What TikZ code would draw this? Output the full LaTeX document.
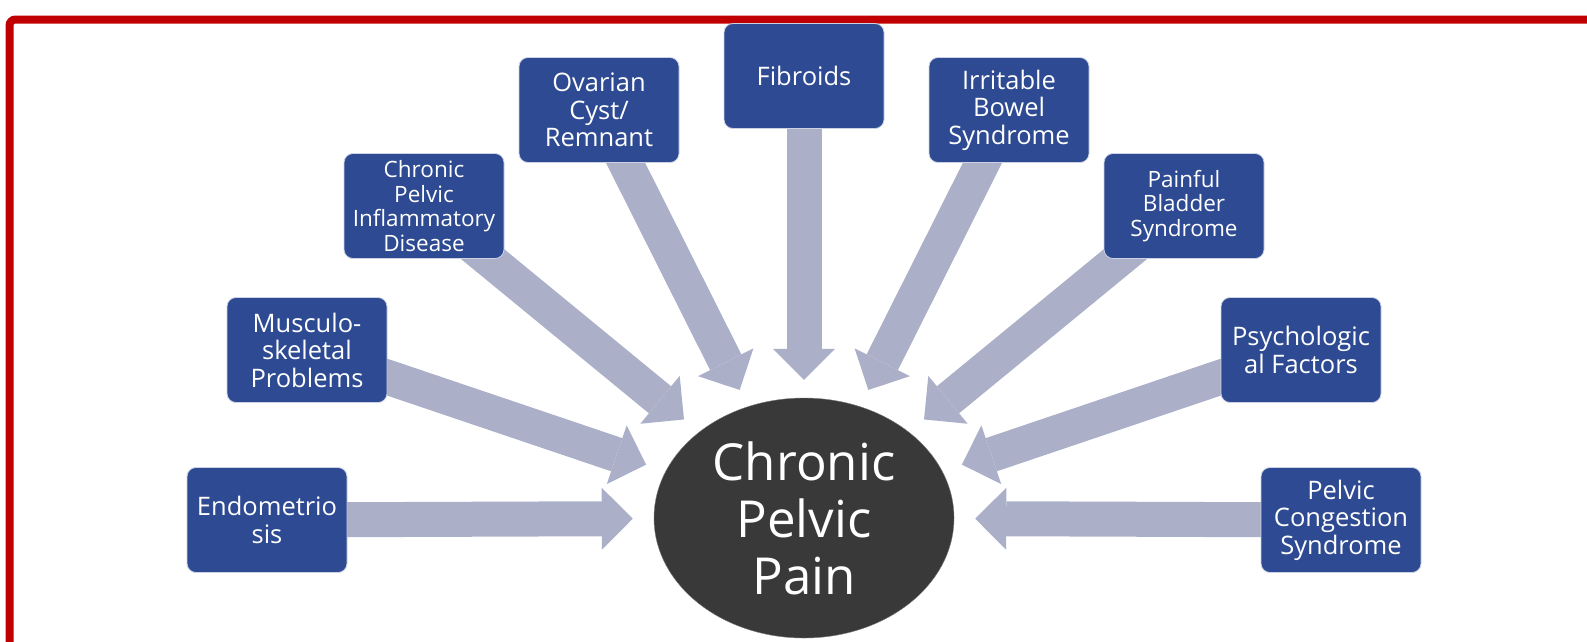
\documentclass[tikz,border=0pt]{standalone}
\usepackage{fontspec}
\setmainfont{Open Sans}
\usepackage{tikz}
\usetikzlibrary{backgrounds}
\usetikzlibrary{shapes.geometric, positioning, calc, arrows.meta}
\definecolor{boxblue}{RGB}{46,74,146}
\definecolor{arrowgrey}{RGB}{171,176,200}
\definecolor{hubgrey}{RGB}{57,57,57}
\definecolor{framered}{RGB}{192,0,0}
\tikzstyle{cause} = [rectangle, rounded corners=9pt, fill=boxblue, draw=white!75!boxblue, line width=0.8pt, text=white, align=center, minimum width=160pt, minimum height=105pt, inner sep=2pt, font=\fontsize{25.5}{27.5}\selectfont]
\tikzstyle{smalltext} = [font=\fontsize{22.5}{24.5}\selectfont]
\tikzstyle{bigarrow} = [color=arrowgrey, line width=35pt, -{Triangle[length=31pt,width=62pt,line width=0pt,fill=arrowgrey]}]

\begin{document}
\begin{tikzpicture}[x=1pt,y=1pt,node distance=3cm,on grid]
    \useasboundingbox (0,0) rectangle (1587,-641);
    \clip (0,0) rectangle (1587,-641);
    \draw[framered, line width=8pt, rounded corners=6pt] (9.5,-19.5) rectangle (1640,-700);
    \node[ellipse, fill=hubgrey, draw=gray, text=white, minimum width=300pt, minimum height=240pt, inner sep=0pt, align=center, font=\fontsize{51}{57}\selectfont](cpp) at (804,-518){Chronic\\Pelvic\\Pain};
    \node[ellipse, minimum width=342pt, minimum height=276pt](ring) at (cpp){};
    \node[cause](endo)[left=537pt of cpp, yshift=-2pt]{Endometrio\\sis};
    \node[cause](musc)[above left=168pt and 497pt of cpp]{Musculo-\\skeletal\\Problems};
    \node[cause,smalltext](pid)[above left=312pt and 380pt of cpp]{Chronic\\Pelvic\\Inflammatory\\Disease};
    \node[cause](ovar)[above left=408pt and 205pt of cpp]{Ovarian\\Cyst/\\Remnant};
    \node[cause](fibr)[above=442pt of cpp]{Fibroids};
    \node[cause](ibs)[above right=408pt and 205pt of cpp]{Irritable\\Bowel\\Syndrome};
    \node[cause,smalltext](pbs)[above right=312pt and 380pt of cpp]{Painful\\Bladder\\Syndrome};
    \node[cause](psy)[above right=168pt and 497pt of cpp]{Psychologic\\al Factors};
    \node[cause](pcs)[right=537pt of cpp, yshift=-2pt]{Pelvic\\Congestion\\Syndrome};
    \begin{scope}[on background layer]
    \path[bigarrow]
    (endo.center) edge (ring)
    (musc.center) edge (ring)
    (pid.center) edge (ring)
    (ovar.center) edge (ring)
    (fibr.center) edge (ring)
    (ibs.center) edge (ring)
    (pbs.center) edge (ring)
    (psy.center) edge (ring)
    (pcs.center) edge (ring);
    \end{scope}
\end{tikzpicture}
\end{document}
